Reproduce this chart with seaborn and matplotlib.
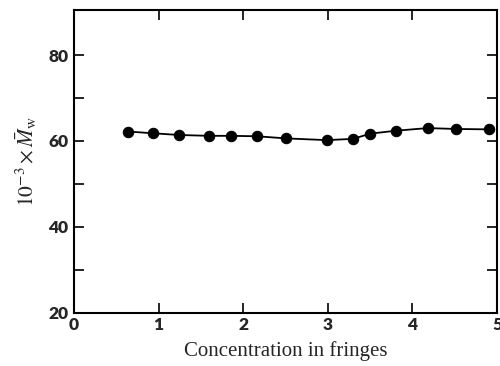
import matplotlib
matplotlib.use("Agg")
import matplotlib.pyplot as plt
import seaborn as sns
import pandas as pd

# concentration (fringes) vs 10^-3 x Mw
conc = [0.64, 0.93, 1.24, 1.59, 1.85, 2.16, 2.51, 2.99, 3.30, 3.50, 3.81, 4.18, 4.51, 4.91]
mw = [62.2, 61.8, 61.4, 61.2, 61.2, 61.1, 60.6, 60.2, 60.5, 61.7, 62.4, 63.0, 62.8, 62.7]

x_ticks = [0, 1, 2, 3, 4, 5]
y_ticks = [20, 40, 60, 80]
y_minor = [30, 50, 70]

df = pd.DataFrame({"conc": conc, "mw": mw})

sns.set_style("ticks")
plt.rcParams["mathtext.fontset"] = "stix"

fig = plt.figure(figsize=(5, 3.66), dpi=100)
ax = fig.add_axes([0.148, 0.145, 0.846, 0.828])

sns.lineplot(data=df, x="conc", y="mw", ax=ax, color="black", linewidth=1.3,
             marker="o", markersize=7.5, markeredgecolor="black", markerfacecolor="black")

ax.set_xlim(0, 4.98)
ax.set_ylim(20, 90.5)
ax.set_xticks(x_ticks)
ax.set_yticks(y_ticks)
ax.set_yticks(y_minor, minor=True)
ax.tick_params(which="both", direction="in", top=True, right=True, width=1.2, color="black")
ax.tick_params(which="both", length=7)
ax.tick_params(axis="y", which="major", pad=4)
ax.tick_params(axis="x", which="major", pad=3)
for lab in ax.get_xticklabels() + ax.get_yticklabels():
    lab.set_fontfamily("Lato")
    lab.set_fontweight("heavy")
    lab.set_fontsize(12.5)
for sp in ax.spines.values():
    sp.set_linewidth(1.5)
    sp.set_color("black")

ax.set_xlabel("Concentration in fringes", fontfamily="Liberation Serif", fontsize=15, labelpad=6)
ax.set_ylabel(r"$10^{-3}\times\bar{M}_{\mathrm{w}}$", fontsize=15.5, labelpad=7)

fig.savefig("out.png", dpi=100)
